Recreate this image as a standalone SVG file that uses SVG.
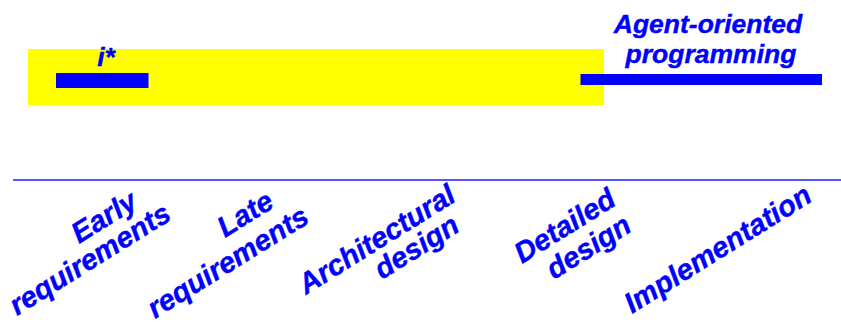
<svg xmlns="http://www.w3.org/2000/svg" width="841" height="322" viewBox="0 0 841 322">
<style>
.t{font-family:"Liberation Sans",Arial,sans-serif;font-weight:bold;font-style:italic;fill:#0000ff;stroke:#0000ff;stroke-width:0.4;}
.top{font-size:26.5px;}
.lab{font-size:29px;}
.bar{fill:#0000ff;}
</style>
<rect width="841" height="322" fill="#ffffff"/>
<g id="band"><rect x="28" y="49" width="576" height="56" fill="#ffff00"/></g>
<g id="istar">
<rect class="bar" x="56" y="73" width="92.5" height="15"/>
<text class="t top" x="106" y="66" text-anchor="middle">i*</text>
</g>
<g id="aop">
<rect class="bar" x="580.5" y="74" width="241.5" height="11"/>
<text class="t top" x="708" y="33" text-anchor="middle">Agent-oriented</text>
<text class="t top" x="711" y="63" text-anchor="middle">programming</text>
</g>
<g id="connectors">
<line x1="13" y1="180" x2="841" y2="180" stroke="#5555ff" stroke-width="2"/>
</g>
<g id="early">
<text class="t lab" transform="translate(79,244) rotate(-32)">Early</text>
<text class="t lab" transform="translate(17,316) rotate(-32)">requirements</text>
</g>
<g id="late">
<text class="t lab" transform="translate(225,238) rotate(-32)">Late</text>
<text class="t lab" transform="translate(155,319) rotate(-32)">requirements</text>
</g>
<g id="arch">
<text class="t lab" transform="translate(306,295) rotate(-32)">Architectural</text>
<text class="t lab" transform="translate(382,280) rotate(-32)">design</text>
</g>
<g id="detailed">
<text class="t lab" transform="translate(522,264) rotate(-32)">Detailed</text>
<text class="t lab" transform="translate(554,280) rotate(-32)">design</text>
</g>
<g id="impl">
<text class="t lab" transform="translate(632,314) rotate(-32)">Implementation</text>
</g>
</svg>
